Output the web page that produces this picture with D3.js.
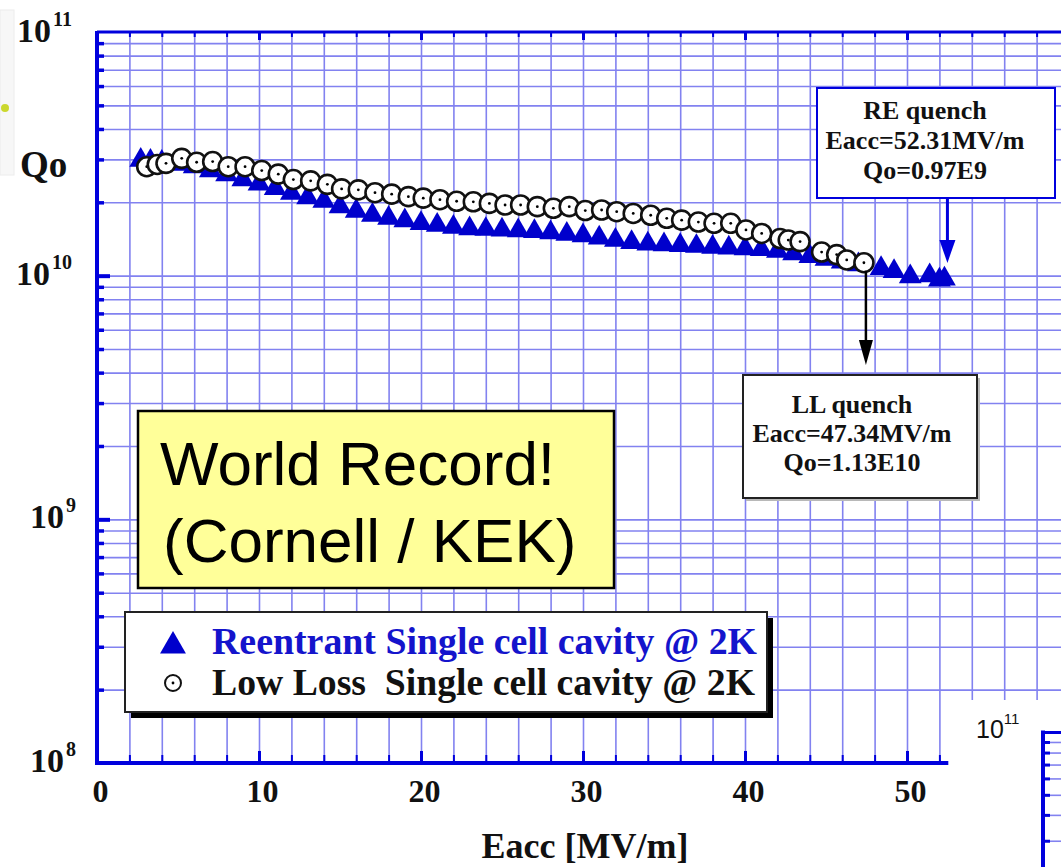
<!DOCTYPE html>
<html>
<head>
<meta charset="utf-8">
<script src="https://cdn.jsdelivr.net/npm/d3@7"></script>
<style>
body{margin:0;background:#fff;}
svg{display:block;}
</style>
</head>
<body>
<div id="QoDiv"></div>
<script>

// Reentrant cavity (blue triangles), Qo in units of 1e10
var reEacc = [2.7, 3.3, 4.0, 5.0, 6.0, 7.0, 8.0, 9.0, 10.0, 11.0, 12.0, 13.0, 14.0, 15.0, 16.0, 17.0, 18.0, 19.0, 20.0, 21.0,
	22.0, 23.0, 24.0, 25.0, 26.0, 27.0, 28.0, 29.0, 30.0, 31.0, 32.0, 33.0, 34.0, 35.0, 36.0, 37.0, 38.0, 39.0, 40.0, 41.0,
	42.0, 43.0, 44.0, 45.0, 46.0, 47.0, 48.4, 49.2, 50.2, 51.4, 52.0, 52.31];
var reQo = [2.98, 2.95, 2.92, 2.87, 2.80, 2.70, 2.60, 2.48, 2.38, 2.28, 2.18, 2.09, 2.02, 1.92, 1.84, 1.77, 1.72, 1.68, 1.64, 1.61,
	1.58, 1.56, 1.55, 1.54, 1.53, 1.52, 1.50, 1.48, 1.46, 1.43, 1.40, 1.37, 1.35, 1.34, 1.33, 1.32, 1.31, 1.30, 1.29, 1.28,
	1.26, 1.23, 1.20, 1.17, 1.14, 1.11, 1.07, 1.04, 0.99, 1.00, 0.96, 0.97];

// Low loss cavity (open circles), Qo in units of 1e10
var llEacc = [3.07, 3.72, 4.26, 5.23, 6.15, 7.14, 8.10, 9.14, 10.17, 11.19, 12.12, 13.19, 14.22, 15.10, 16.13, 17.16, 18.19,
	19.22, 20.14, 21.17, 22.20, 23.23, 24.22, 25.19, 26.15, 27.18, 28.17, 29.15, 30.14, 31.15, 32.08, 33.10, 34.18, 35.17,
	36.09, 37.12, 38.09, 39.12, 40.06, 41.03, 42.16, 42.67, 43.40, 44.73, 45.66, 46.28, 47.34];
var llQo = [2.80, 2.86, 2.89, 3.03, 2.92, 2.94, 2.80, 2.80, 2.70, 2.61, 2.48, 2.45, 2.37, 2.27, 2.25, 2.19, 2.16,
	2.11, 2.08, 2.05, 2.02, 2.01, 1.98, 1.95, 1.95, 1.92, 1.89, 1.92, 1.85, 1.86, 1.83, 1.80, 1.77, 1.72,
	1.69, 1.66, 1.64, 1.64, 1.54, 1.49, 1.42, 1.40, 1.38, 1.25, 1.22, 1.16, 1.13];

var xTickLabels = [0, 10, 20, 30, 40, 50];
var yDecades = [8, 9, 10, 11];
var legendLabels = ["Reentrant Single cell cavity @ 2K", "Low Loss  Single cell cavity @ 2K"];
var reNote = ["RE quench", "Eacc=52.31MV/m", "Qo=0.97E9"];
var llNote = ["LL quench", "Eacc=47.34MV/m", "Qo=1.13E10"];
var recordText = ["World Record!", "(Cornell / KEK)"];
var reQuench = {E: 52.31, Q: 0.97};
var llQuench = {E: 47.34, Q: 1.13};

var wd = 1061, ht = 867;
var blue = "#0000dd";
var gridCol = "#8282f0";
var serif = "'Liberation Serif','Times New Roman',serif";
var sans = "'Liberation Sans',Arial,sans-serif";

var x = d3.scaleLinear().domain([0, 60]).range([97, 1069]);
var y = d3.scaleLog().domain([1e8, 1e11]).range([763, 32]);

var svg = d3.select('#QoDiv')
	.append("svg")
	.attr("width", wd)
	.attr("height", ht);

svg.append('rect').attr('width', wd).attr('height', ht).attr('fill', '#fff');

// slide leftovers
svg.append('rect').attr('x', 0).attr('y', 10).attr('width', 14).attr('height', 165)
	.attr('fill', '#f7f7f7').attr('stroke', '#ececec');
svg.append('circle').attr('cx', 5).attr('cy', 108).attr('r', 4).attr('fill', '#cbd82e');

// grid values
var xGrid = d3.range(2, 60, 2);
var yMinor = [];
[8, 9, 10].forEach(function (d) {
	for (var k = 2; k <= 9; k++) yMinor.push(k * Math.pow(10, d));
});
var yMajor = [1e9, 1e10];

function noDomain(g) { g.select('.domain').remove(); }

// vertical grid
svg.append('g')
	.attr('transform', 'translate(0,763)')
	.call(d3.axisBottom(x).tickValues(xGrid).tickSize(-(763 - 32)).tickFormat(''))
	.call(noDomain)
	.selectAll('line').attr('stroke', gridCol).attr('stroke-width', 1.6);

// horizontal grid
svg.append('g')
	.attr('transform', 'translate(97,0)')
	.call(d3.axisRight(y).tickValues(yMinor.concat(yMajor)).tickSize(1000).tickFormat(''))
	.call(noDomain)
	.selectAll('line').attr('stroke', gridCol).attr('stroke-width', 1.6);

// inward ticks
function tickGroup(axis, tr, w) {
	svg.append('g').attr('transform', tr)
		.call(axis)
		.call(noDomain)
		.selectAll('line').attr('stroke', blue).attr('stroke-width', w);
}
tickGroup(d3.axisRight(y).tickValues(yMinor).tickSize(7).tickFormat(''), 'translate(97,0)', 3.5);
tickGroup(d3.axisRight(y).tickValues(yMajor).tickSize(13).tickFormat(''), 'translate(97,0)', 4);
tickGroup(d3.axisBottom(x).tickValues(xGrid).tickSize(5).tickFormat(''), 'translate(0,32)', 2);
tickGroup(d3.axisBottom(x).tickValues([10, 20, 30, 40, 50]).tickSize(8).tickFormat(''), 'translate(0,32)', 3);
tickGroup(d3.axisTop(x).tickValues(xGrid.filter(function (d) { return d <= 52; })).tickSize(8).tickFormat(''), 'translate(0,763)', 2);
tickGroup(d3.axisTop(x).tickValues([10, 20, 30, 40, 50]).tickSize(12).tickFormat(''), 'translate(0,763)', 3);

// frame
svg.append('line').attr('x1', x(0)).attr('x2', wd + 10).attr('y1', 32).attr('y2', 32)
	.attr('stroke', blue).attr('stroke-width', 3);
svg.append('line').attr('x1', x(0)).attr('x2', x(0)).attr('y1', 31).attr('y2', 765)
	.attr('stroke', blue).attr('stroke-width', 4);
svg.append('line').attr('x1', x(0) - 2).attr('x2', x(52.55)).attr('y1', 763).attr('y2', 763)
	.attr('stroke', blue).attr('stroke-width', 4);

// reentrant triangles
svg.append('g').selectAll('.reMark')
	.data(reEacc)
	.enter()
	.append('path')
	.attr('class', 'reMark')
	.attr('d', d3.symbol().type(d3.symbolTriangle).size(225))
	.attr('transform', function (d, i) { return 'translate(' + x(d) + ',' + y(reQo[i] * 1e10) + ')'; })
	.attr('fill', '#0000cc');

// low loss circles
var ll = svg.append('g').selectAll('.llMark')
	.data(llEacc)
	.enter()
	.append('g')
	.attr('class', 'llMark')
	.attr('transform', function (d, i) { return 'translate(' + x(d) + ',' + y(llQo[i] * 1e10) + ')'; });
ll.append('circle').attr('r', 9.5).attr('fill', '#fff').attr('stroke', '#111').attr('stroke-width', 2.6);
ll.append('circle').attr('r', 1.4).attr('fill', '#000');

// RE quench note
svg.append('rect').attr('x', 817).attr('y', 88).attr('width', 238).attr('height', 110)
	.attr('fill', '#fff').attr('stroke', blue).attr('stroke-width', 2);
svg.append('g').selectAll('text').data(reNote).enter().append('text')
	.attr('x', 925).attr('y', function (d, i) { return 119 + i * 30; })
	.attr('text-anchor', 'middle')
	.attr('font-family', serif).attr('font-weight', 'bold').attr('font-size', 26)
	.attr('fill', '#111')
	.text(function (d) { return d; });
var reX = x(reQuench.E) + 3, reTip = y(reQuench.Q * 1e10) - 16;
svg.append('line').attr('x1', reX).attr('x2', reX).attr('y1', 198).attr('y2', reTip - 18)
	.attr('stroke', blue).attr('stroke-width', 3);
svg.append('path')
	.attr('d', 'M' + (reX - 8) + ',' + (reTip - 23) + 'L' + (reX + 8) + ',' + (reTip - 23) + 'L' + reX + ',' + reTip + 'Z')
	.attr('fill', blue);

// LL quench note
var llX = x(llQuench.E) + 2, llTop = y(llQuench.Q * 1e10) + 8;
svg.append('line').attr('x1', llX).attr('x2', llX).attr('y1', llTop).attr('y2', 345)
	.attr('stroke', '#000').attr('stroke-width', 2.5);
svg.append('path')
	.attr('d', 'M' + (llX - 7) + ',340L' + (llX + 7) + ',340L' + llX + ',365Z')
	.attr('fill', '#000');
svg.append('rect').attr('x', 746).attr('y', 378).attr('width', 234).attr('height', 123)
	.attr('fill', '#b8b8b8');
svg.append('rect').attr('x', 743).attr('y', 375).attr('width', 234).attr('height', 123)
	.attr('fill', '#fff').attr('stroke', '#222').attr('stroke-width', 2);
svg.append('g').selectAll('text').data(llNote).enter().append('text')
	.attr('x', 852).attr('y', function (d, i) { return 413 + i * 29; })
	.attr('text-anchor', 'middle')
	.attr('font-family', serif).attr('font-weight', 'bold').attr('font-size', 26)
	.attr('fill', '#111')
	.text(function (d) { return d; });

// world record box
svg.append('rect').attr('x', 138).attr('y', 411).attr('width', 476).attr('height', 177)
	.attr('fill', '#ffff99').attr('stroke', '#000').attr('stroke-width', 2.5);
svg.append('g').selectAll('text').data(recordText).enter().append('text')
	.attr('x', function (d, i) { return 160 + i * 3; })
	.attr('y', function (d, i) { return 485 + i * 77; })
	.attr('font-family', sans).attr('font-size', 62)
	.attr('fill', '#000')
	.text(function (d) { return d; });

// legend
svg.append('rect').attr('x', 131).attr('y', 618).attr('width', 642).attr('height', 100).attr('fill', '#000');
svg.append('rect').attr('x', 125).attr('y', 612).attr('width', 642).attr('height', 100)
	.attr('fill', '#fff').attr('stroke', '#222').attr('stroke-width', 2);
svg.append('path').attr('d', d3.symbol().type(d3.symbolTriangle).size(290))
	.attr('transform', 'translate(173,646)').attr('fill', '#0000cc');
svg.append('circle').attr('cx', 173).attr('cy', 683).attr('r', 8)
	.attr('fill', '#fff').attr('stroke', '#111').attr('stroke-width', 2);
svg.append('circle').attr('cx', 173).attr('cy', 683).attr('r', 1.4).attr('fill', '#000');
svg.append('g').selectAll('text').data(legendLabels).enter().append('text')
	.attr('x', 212).attr('y', function (d, i) { return 654 + i * 41; })
	.attr('font-family', serif).attr('font-weight', 'bold').attr('font-size', 38)
	.attr('textLength', function (d, i) { return i === 0 ? 545 : 543; })
	.attr('lengthAdjust', 'spacingAndGlyphs')
	.attr('fill', function (d, i) { return i === 0 ? '#1414cc' : '#111'; })
	.style('white-space', 'pre')
	.attr('xml:space', 'preserve')
	.text(function (d) { return d; });

// x tick labels
svg.append('g')
	.attr('transform', 'translate(0,763)')
	.call(d3.axisBottom(x).tickValues(xTickLabels).tickSize(0).tickPadding(16).tickFormat(d3.format('d')))
	.call(noDomain)
	.attr('font-family', serif).attr('font-size', 32).attr('font-weight', 'bold')
	.selectAll('text').attr('dx', 3).attr('fill', '#111');

// y decade labels
var yl = svg.append('g').selectAll('text').data(yDecades).enter().append('text')
	.attr('x', function (d) { return d > 9 ? 72 : 76; })
	.attr('y', function (d) { return y(Math.pow(10, d)) + (d === 11 ? 10 : 9); })
	.attr('text-anchor', 'end')
	.attr('font-family', serif).attr('font-weight', 'bold').attr('font-size', 34)
	.attr('fill', '#111');
yl.append('tspan').text('10');
yl.append('tspan').attr('dy', -16).attr('dx', 2).attr('font-size', 20)
	.text(function (d) { return d; });

// axis titles
svg.append('text').attr('x', 20).attr('y', 177)
	.attr('font-family', serif).attr('font-weight', 'bold').attr('font-size', 37).attr('fill', '#111')
	.text('Qo');
svg.append('text').attr('x', 585).attr('y', 858).attr('text-anchor', 'middle')
	.attr('font-family', serif).attr('font-weight', 'bold').attr('font-size', 36).attr('fill', '#111')
	.text('Eacc [MV/m]');

// second chart peeking in at the bottom right
svg.append('rect').attr('x', 968).attr('y', 700).attr('width', 100).attr('height', 170).attr('fill', '#fff');
var y2 = d3.scaleLog().domain([1e10, 1e11]).range([939.5, 732.5]);
var y2Minor = [2e10, 3e10, 4e10, 5e10, 6e10, 7e10, 8e10, 9e10];
svg.append('g').attr('transform', 'translate(1043,0)')
	.call(d3.axisRight(y2).tickValues(y2Minor).tickSize(30).tickFormat(''))
	.call(noDomain)
	.selectAll('line').attr('stroke', gridCol).attr('stroke-width', 1.6);
svg.append('g').attr('transform', 'translate(1043,0)')
	.call(d3.axisRight(y2).tickValues(y2Minor).tickSize(7).tickFormat(''))
	.call(noDomain)
	.selectAll('line').attr('stroke', blue).attr('stroke-width', 3);
svg.append('line').attr('x1', 1043).attr('x2', 1043).attr('y1', y2(1e11) - 2).attr('y2', ht)
	.attr('stroke', blue).attr('stroke-width', 4);
svg.append('line').attr('x1', 1041).attr('x2', wd).attr('y1', y2(1e11)).attr('y2', y2(1e11))
	.attr('stroke', blue).attr('stroke-width', 3);
var t2 = svg.append('text').attr('x', 976).attr('y', 738)
	.attr('font-family', sans).attr('font-size', 25).attr('fill', '#111');
t2.append('tspan').text('10');
t2.append('tspan').attr('dy', -14).attr('font-size', 15).text('11');

</script>
</body>
</html>
